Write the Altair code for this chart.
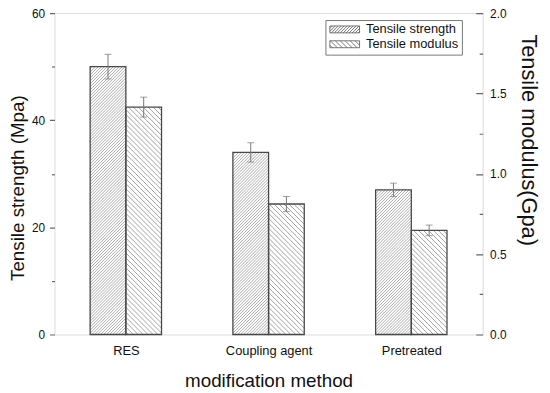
import json
import numpy as np
import pandas as pd
import altair as alt

# ---- data ----
categories = ["RES", "Coupling agent", "Pretreated"]
series = ["Tensile strength", "Tensile modulus"]
strength = [50.0, 34.0, 27.0]          # MPa
strength_err = [2.3, 1.8, 1.25]
modulus = [1.415, 0.812, 0.648]        # GPa
modulus_err = [0.062, 0.047, 0.033]

# ---- layout constants ----
W, H = 433, 325
X_MAX = 3
Y1_MAX, Y2_MAX = 60, 2.0
BAR = 0.25
FONT = "Liberation Sans"
KX = W / X_MAX


def bar_table(values, errs, side):
    rows = []
    for i, (c, v, e) in enumerate(zip(categories, values, errs)):
        center = i + 0.5
        x0 = center - BAR if side == 0 else center
        rows.append(dict(cat=c, x0=x0, x1=x0 + BAR, xm=x0 + BAR / 2,
                         v=v, base=0.0, lo=v - e, hi=v + e))
    return pd.DataFrame(rows)


def hatch_segments(w, h, s, direction):
    segs = []
    if direction > 0:  # "/"
        for c in np.arange(-w + s / 2, h, s):
            u0, u1 = max(0.0, -c), min(w, h - c)
            if u1 > u0:
                segs.append((u0, u0 + c, u1, u1 + c))
    else:  # "\"
        for c in np.arange(s / 2, w + h, s):
            u0, u1 = max(0.0, c - h), min(w, c)
            if u1 > u0:
                segs.append((u0, c - u0, u1, c - u1))
    return segs


def hatch_table(df, ky, s, direction):
    rows = []
    for r in df.itertuples():
        w = (r.x1 - r.x0) * KX
        h = r.v * ky
        for (ua, va, ub, vb) in hatch_segments(w, h, s, direction):
            rows.append(dict(xa=r.x0 + ua / KX, ya=va / ky,
                             xb=r.x0 + ub / KX, yb=vb / ky))
    return pd.DataFrame(rows)


SYM_SIZE = 100          # legend symbol nominal size -> sqrt = 10 px
SYM_UNIT = 5.0          # sqrt(SYM_SIZE) / 2


def swatch_path(s, direction):
    w, h = 30.0, 7.0
    left = -1.0
    hh = h / 2 / SYM_UNIT
    parts = [f"M{left:.3f},{-hh:.3f}H{left + w / SYM_UNIT:.3f}V{hh:.3f}H{left:.3f}Z"]
    for (ua, va, ub, vb) in hatch_segments(w, h, s, direction):
        parts.append(f"M{left + ua / SYM_UNIT:.3f},{hh - va / SYM_UNIT:.3f}"
                     f"L{left + ub / SYM_UNIT:.3f},{hh - vb / SYM_UNIT:.3f}")
    return "".join(parts)


S_DENSE, S_SPARSE = 3.0, 5.0

df_s = bar_table(strength, strength_err, 0)
df_m = bar_table(modulus, modulus_err, 1)
h_s = hatch_table(df_s, H / Y1_MAX, S_DENSE, +1)
h_m = hatch_table(df_m, H / Y2_MAX, S_SPARSE, -1)

AX_COLOR = "#666666"
TXT = "#111111"

x_scale = alt.Scale(domain=[0, X_MAX], nice=False, zero=False)
y1_scale = alt.Scale(domain=[0, Y1_MAX], nice=False)
y2_scale = alt.Scale(domain=[0, Y2_MAX], nice=False)

x_axis = alt.Axis(orient="bottom", values=[0.5, 1.5, 2.5],
                  labelExpr=f"{json.dumps(categories)}[floor(datum.value)]",
                  ticks=False, tickSize=0, domain=False, grid=False,
                  labelFont=FONT, labelFontSize=13, labelColor=TXT, labelPadding=10,
                  labelFlush=False, labelOverlap=False,
                  title="modification method", titleFont=FONT, titleFontSize=19,
                  titleFontWeight="normal", titleColor=TXT, titleY=53,
                  titleBaseline="alphabetic")

left_axis = alt.Axis(orient="left", values=list(range(0, 61, 10)),
                     labelExpr="datum.value % 20 == 0 ? datum.label : ''",
                     domain=False, grid=False, tickSize=5, tickColor=AX_COLOR,
                     tickWidth=1.2,
                     tickDash={"condition": {"test": "datum.value % 20 != 0", "value": [3, 10]},
                               "value": [1, 0]},
                     labelFont=FONT, labelFontSize=12, labelColor=TXT, labelPadding=5,
                     labelOverlap=False,
                     title="Tensile strength (Mpa)", titleFont=FONT, titleFontSize=19,
                     titleFontWeight="normal", titleColor=TXT, titleX=-37, titleY=176.5,
                     titleAngle=270, titleBaseline="middle", titleAlign="center")

right_axis = alt.Axis(orient="right", values=[i * 0.25 for i in range(9)],
                      labelExpr="(datum.value * 4) % 2 == 0 ? format(datum.value, '.1f') : ''",
                      offset=-7, domain=False, grid=False, tickSize=7, tickColor=AX_COLOR,
                      tickWidth=1.2,
                      tickDash={"condition": {"test": "(datum.value * 4) % 2 != 0",
                                              "value": [0, 3.5, 3.5]},
                                "value": [1, 0]},
                      labelFont=FONT, labelFontSize=12, labelColor=TXT, labelPadding=7,
                      labelOverlap=False,
                      title="Tensile modulus(Gpa)", titleFont=FONT, titleFontSize=22,
                      titleFontWeight="normal", titleColor=TXT, titleX=53, titleY=128,
                      titleAngle=90, titleBaseline="middle", titleAlign="center")


def group(df, hdf, y_scale, y_axis, hatch_w):
    hatch = alt.Chart(hdf).mark_rule(color="#8a8a8a", strokeWidth=hatch_w).encode(
        x=alt.X("xa:Q", scale=x_scale, axis=x_axis),
        x2="xb:Q",
        y=alt.Y("ya:Q", scale=y_scale, axis=y_axis),
        y2="yb:Q")
    outline = alt.Chart(df).mark_bar(fill="transparent", stroke="#484848",
                                     strokeWidth=1.3).encode(
        x=alt.X("x0:Q", scale=x_scale, axis=x_axis),
        x2="x1:Q",
        y=alt.Y("v:Q", scale=y_scale, axis=y_axis),
        y2="base:Q")
    err = alt.Chart(df).mark_rule(color="#777777", strokeWidth=1).encode(
        x=alt.X("xm:Q", scale=x_scale, axis=x_axis),
        y=alt.Y("lo:Q", scale=y_scale, axis=y_axis),
        y2="hi:Q")
    cap_lo = alt.Chart(df).mark_tick(orient="horizontal", size=7, thickness=1,
                                     color="#777777").encode(
        x=alt.X("xm:Q", scale=x_scale, axis=x_axis),
        y=alt.Y("lo:Q", scale=y_scale, axis=y_axis))
    cap_hi = alt.Chart(df).mark_tick(orient="horizontal", size=7, thickness=1,
                                     color="#777777").encode(
        x=alt.X("xm:Q", scale=x_scale, axis=x_axis),
        y=alt.Y("hi:Q", scale=y_scale, axis=y_axis))
    return [hatch, outline, err, cap_lo, cap_hi]


legend_df = pd.DataFrame({"series": series, "px": [0.0, 0.0], "py": [0.0, 0.0]})
legend_layer = alt.Chart(legend_df).transform_filter("false").mark_point(
    filled=False, color="#555555", strokeWidth=0.8).encode(
    x=alt.X("px:Q", scale=x_scale, axis=x_axis),
    y=alt.Y("py:Q", scale=y1_scale, axis=left_axis),
    shape=alt.Shape("series:N",
                    scale=alt.Scale(domain=series,
                                    range=[swatch_path(S_DENSE, +1),
                                           swatch_path(S_SPARSE, -1)]),
                    legend=alt.Legend(title=None, orient="none", legendX=274, legendY=7,
                                      symbolSize=SYM_SIZE, symbolStrokeWidth=0.8,
                                      symbolStrokeColor="#555555",
                                      symbolFillColor="white", symbolOpacity=1,
                                      labelFont=FONT, labelFontSize=13, labelColor=TXT,
                                      labelOffset=25, padding=3, rowPadding=1,
                                      labelLimit=200,
                                      strokeColor="#777777", fillColor="white")))

left = alt.layer(*group(df_s, h_s, y1_scale, left_axis, 0.7), legend_layer)
right = alt.layer(*group(df_m, h_m, y2_scale, right_axis, 0.8))

chart = alt.layer(left, right).resolve_scale(y="independent").properties(
    width=W, height=H,
    autosize=alt.AutoSizeParams(type="none"),
    padding={"left": 47, "top": 3, "right": 60, "bottom": 57},
).configure_view(stroke=AX_COLOR, strokeWidth=1.3).configure(background="white")

chart.save("out.html", embed_options={"renderer": "svg", "actions": False})
